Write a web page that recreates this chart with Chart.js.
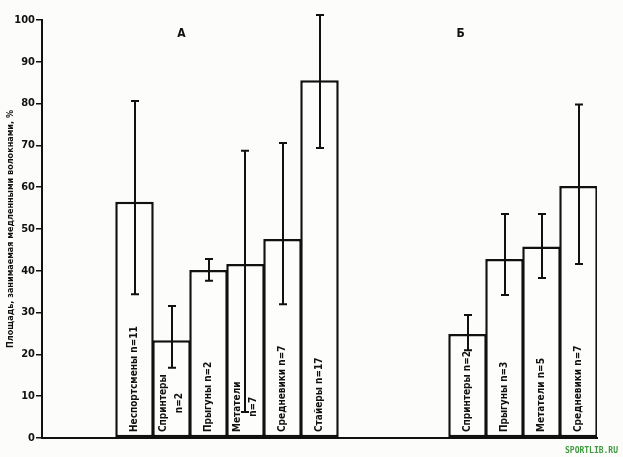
<!DOCTYPE html>
<html>
<head>
<meta charset="utf-8">
<script src="https://cdn.jsdelivr.net/npm/chart.js@4"></script>
<style>
  html, body { margin: 0; padding: 0; background: #fcfcfa; }
  #wrap { width: 623px; height: 457px; position: relative; }
</style>
</head>
<body>
<div id="wrap"><canvas id="chart"></canvas></div>
<script>
// slots: two empty, group A (6 bars), three empty, group B (4 bars)
const categories = ["", "",
  "Неспортсмены n=11", "Спринтеры\nn=2", "Прыгуны n=2", "Метатели\nn=7", "Средневики n=7", "Стайеры n=17",
  "", "", "",
  "Спринтеры n=2", "Прыгуны n=3", "Метатели n=5", "Средневики n=7"];
const means = [null, null, 56.5, 23.4, 40.2, 41.6, 47.6, 85.6, null, null, null, 24.9, 42.8, 45.8, 60.3];
const errLow = [null, null, 34.4, 16.8, 37.6, 6.2, 32.0, 69.4, null, null, null, 21.0, 34.2, 38.3, 41.6];
const errHigh = [null, null, 80.6, 31.6, 42.8, 68.7, 70.6, 101.2, null, null, null, 29.4, 53.6, 53.6, 79.8];
const yTicks = [0, 10, 20, 30, 40, 50, 60, 70, 80, 90, 100];
const groupLabels = [{ text: "А", at: 3, dx: 10 }, { text: "Б", at: 11, dx: -7 }];

const FONT = "'Liberation Sans Narrow', 'DejaVu Sans Condensed', sans-serif";

// error bars, rotated labels inside the bars, group letters, watermark
const overlay = {
  id: "overlay",
  afterDatasetsDraw(chart) {
    const ctx = chart.ctx;
    const y = chart.scales.y;
    const x = chart.scales.x;
    const meta = chart.getDatasetMeta(0);

    ctx.save();
    ctx.strokeStyle = "#111";
    ctx.lineWidth = 2;
    meta.data.forEach((bar, i) => {
      if (errLow[i] == null) return;
      const cx = Math.round(bar.x);
      const y1 = y.getPixelForValue(errLow[i]);
      const y2 = y.getPixelForValue(errHigh[i]);
      ctx.beginPath();
      ctx.moveTo(cx, y1); ctx.lineTo(cx, y2);
      ctx.moveTo(cx - 4, y1); ctx.lineTo(cx + 4, y1);
      ctx.moveTo(cx - 4, y2); ctx.lineTo(cx + 4, y2);
      ctx.stroke();
    });

    ctx.fillStyle = "#111";
    ctx.font = "bold 10px " + FONT;
    ctx.textBaseline = "middle";
    ctx.textAlign = "left";
    meta.data.forEach((bar, i) => {
      if (means[i] == null) return;
      const lines = categories[i].split("\n");
      const base = y.getPixelForValue(0) - 6;
      ctx.save();
      ctx.translate(bar.x, base);
      ctx.rotate(-Math.PI / 2);
      if (lines.length === 1) {
        ctx.fillText(lines[0], 0, 0);
      } else {
        ctx.fillText(lines[0], 0, -8);
        ctx.textAlign = "center";
        const w = ctx.measureText(lines[0]).width;
        ctx.fillText(lines[1], w / 2, 8);
        ctx.textAlign = "left";
      }
      ctx.restore();
    });

    ctx.font = "bold 12px " + FONT;
    ctx.textAlign = "center";
    groupLabels.forEach(g => {
      ctx.fillText(g.text, x.getPixelForValue(g.at) + g.dx, 34);
    });

    ctx.font = "bold 8px 'DejaVu Sans Mono', monospace";
    ctx.fillStyle = "#3f9a3f";
    ctx.textAlign = "right";
    ctx.fillText("SPORTLIB.RU", 618, 451);
    ctx.restore();
  }
};

new Chart(document.getElementById("chart"), {
  type: "bar",
  data: {
    labels: categories,
    datasets: [{
      data: means,
      backgroundColor: "#fdfdfb",
      borderColor: "#111",
      borderWidth: 2.5,
      borderSkipped: false,
      inflateAmount: 0,
      barPercentage: 1.04,
      categoryPercentage: 1,
    }],
  },
  options: {
    responsive: true,
    maintainAspectRatio: false,
    animation: false,
    layout: { padding: { top: 20, right: 26, bottom: 19, left: 0 } },
    plugins: { legend: { display: false }, tooltip: { enabled: false } },
    scales: {
      x: {
        offset: true,
        grid: { display: false },
        ticks: { display: false },
        border: { display: true, color: "#111", width: 2 },
        afterFit: s => { s.height = 0; },
      },
      y: {
        min: 0,
        max: 100,
        afterBuildTicks: s => { s.ticks = yTicks.map(v => ({ value: v })); },
        grid: { display: true, drawOnChartArea: false, tickLength: 6, color: "#111", lineWidth: 1.5 },
        border: { display: true, color: "#111", width: 2 },
        ticks: { color: "#111", padding: 1, font: { family: FONT, size: 11, weight: "bold" } },
        title: {
          display: true,
          text: "Площадь, занимаемая медленными волокнами, %",
          color: "#111",
          padding: { top: 5, bottom: 0 },
          font: { family: FONT, size: 9, weight: "bold" },
        },
        afterFit: s => { s.width = 42; },
      },
    },
  },
  plugins: [overlay],
});
</script>
</body>
</html>
